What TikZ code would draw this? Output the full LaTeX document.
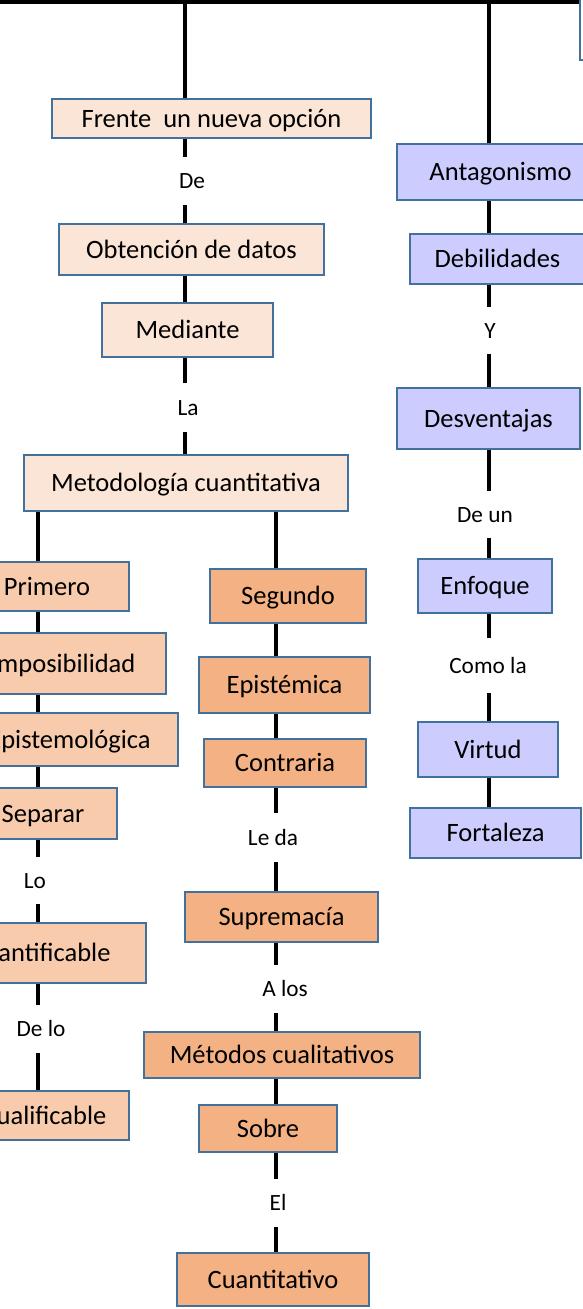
\documentclass[tikz,border=0pt]{standalone}
\usepackage{fontspec}
\setmainfont{Carlito}
\usetikzlibrary{backgrounds}
\definecolor{bordc}{RGB}{65,113,156}
\definecolor{ctop}{RGB}{251,229,214}
\definecolor{cleft}{RGB}{248,203,173}
\definecolor{cmid}{RGB}{244,177,131}
\definecolor{cright}{RGB}{204,204,255}
% box from corners: fill, name, x1, x2, y1, y2
\newcommand\bx[6]{\node[box, fill=#1, minimum width={(#4)-(#3)},
  minimum height={(#6)-(#5)}] (#2) at ({((#3)+(#4))/2},{((#5)+(#6))/2})}
\begin{document}
\begin{tikzpicture}[x=1pt,y=-1pt,
  box/.style={draw=bordc, line width=2.2pt, inner sep=0pt,
    font=\fontsize{26.5}{30}\selectfont, text height=17pt, text depth=0pt},
  lbl/.style={inner sep=0pt, font=\fontsize{23.3}{28}\selectfont,
    text height=15pt, text depth=0pt},
  conn/.style={line width=3.3pt, draw=black}]
\useasboundingbox (0,0) rectangle (583,1309);
\clip (0,0) rectangle (583,1309);

% column coordinates
\coordinate (cA) at (185,0);
\coordinate (cL) at (38,0);
\coordinate (cM) at (276,0);
\coordinate (cR) at (489,0);
\coordinate (tl) at (0,1.85);
\coordinate (tr) at (583,1.85);

% top-right partial box
\bx{white}{topbox}{580}{620}{-10}{60} {};

% top column
\bx{ctop}{frente}{52}{371}{99}{138} {Frente\ \ un nueva opción};
\bx{ctop}{obt}{59}{324}{224}{275} {Obtención de datos};
\bx{ctop}{med}{102}{273}{303}{357} {Mediante};
\bx{ctop}{meto}{24}{348}{455}{511} {Metodología cuantitativa};

% left column
\bx{cleft}{primero}{-35}{129}{562}{611} {Primero};
\bx{cleft}{impos}{-40}{166}{633}{694} {Imposibilidad};
\bx{cleft}{epis}{-39}{178}{713}{766} {Epistemológica};
\bx{cleft}{separar}{-31}{117}{788}{839} {Separar};
\bx{cleft}{cuantif}{-65}{146}{923}{983} {Cuantificable};
\bx{cleft}{cualif}{-40}{129}{1091}{1140} {Cualificable};

% middle column
\bx{cmid}{segundo}{210}{366}{569}{623} {Segundo};
\bx{cmid}{epistemica}{199}{370}{657}{713} {Epistémica};
\bx{cmid}{contraria}{204}{366}{739}{787} {Contraria};
\bx{cmid}{supremacia}{185}{378}{892}{942} {Supremacía};
\bx{cmid}{metodos}{144}{420}{1032}{1078} {Métodos cualitativos};
\bx{cmid}{sobre}{199}{337}{1105}{1152} {Sobre};
\bx{cmid}{cuantitativo}{177}{369}{1253}{1306} {Cuantitativo};

% right column
\bx{cright}{antag}{397}{604}{144}{200} {Antagonismo};
\bx{cright}{debil}{410}{585}{234}{284} {Debilidades};
\bx{cright}{desv}{397}{580}{388}{449} {Desventajas};
\bx{cright}{enfoque}{418}{552}{559}{613} {Enfoque};
\bx{cright}{virtud}{418}{558}{722}{777} {Virtud};
\bx{cright}{fortaleza}{410}{581}{808}{858} {Fortaleza};

% labels
\node[lbl, minimum height=48pt] (de) at (192,181) {De};
\node[lbl, minimum height=49pt] (la) at (188,407.5) {La};
\node[lbl, minimum height=47pt] (y) at (490,330.5) {Y};
\node[lbl, minimum height=47pt] (deun) at (485,514.5) {De un};
\node[lbl, minimum height=55pt] (comola) at (488,665.5) {Como la};
\node[lbl, minimum height=47pt] (lo) at (35,880.5) {Lo};
\node[lbl, minimum height=48pt] (delo) at (41,1029) {De lo};
\node[lbl, minimum height=49pt] (leda) at (273,837.5) {Le da};
\node[lbl, minimum height=48pt] (alos) at (285,989) {A los};
\node[lbl, minimum height=48pt] (el) at (278,1203) {El};

\begin{scope}[on background layer]
\draw[line width=3.7pt] (tl) -- (tr);
\draw[conn] (tl -| cA) -- (frente.north -| cA);
\draw[conn] (tl -| cR) -- (antag.north -| cR);
% top column
\draw[conn] (frente.south -| cA) -- (de.north -| cA);
\draw[conn] (de.south -| cA) -- (obt.north -| cA);
\draw[conn] (obt.south -| cA) -- (med.north -| cA);
\draw[conn] (med.south -| cA) -- (la.north -| cA);
\draw[conn] (la.south -| cA) -- (meto.north -| cA);
% left
\draw[conn] (meto.south -| cL) -- (primero.north -| cL);
\draw[conn] (primero.south -| cL) -- (impos.north -| cL);
\draw[conn] (impos.south -| cL) -- (epis.north -| cL);
\draw[conn] (epis.south -| cL) -- (separar.north -| cL);
\draw[conn] (separar.south -| cL) -- (lo.north -| cL);
\draw[conn] (lo.south -| cL) -- (cuantif.north -| cL);
\draw[conn] (cuantif.south -| cL) -- (delo.north -| cL);
\draw[conn] (delo.south -| cL) -- (cualif.north -| cL);
% middle
\draw[conn] (meto.south -| cM) -- (segundo.north -| cM);
\draw[conn] (segundo.south -| cM) -- (epistemica.north -| cM);
\draw[conn] (epistemica.south -| cM) -- (contraria.north -| cM);
\draw[conn] (contraria.south -| cM) -- (leda.north -| cM);
\draw[conn] (leda.south -| cM) -- (supremacia.north -| cM);
\draw[conn] (supremacia.south -| cM) -- (alos.north -| cM);
\draw[conn] (alos.south -| cM) -- (metodos.north -| cM);
\draw[conn] (metodos.south -| cM) -- (sobre.north -| cM);
\draw[conn] (sobre.south -| cM) -- (el.north -| cM);
\draw[conn] (el.south -| cM) -- (cuantitativo.north -| cM);
% right
\draw[conn] (antag.south -| cR) -- (debil.north -| cR);
\draw[conn] (debil.south -| cR) -- (y.north -| cR);
\draw[conn] (y.south -| cR) -- (desv.north -| cR);
\draw[conn] (desv.south -| cR) -- (deun.north -| cR);
\draw[conn] (deun.south -| cR) -- (enfoque.north -| cR);
\draw[conn] (enfoque.south -| cR) -- (comola.north -| cR);
\draw[conn] (comola.south -| cR) -- (virtud.north -| cR);
\draw[conn] (virtud.south -| cR) -- (fortaleza.north -| cR);
\end{scope}
\end{tikzpicture}
\end{document}
